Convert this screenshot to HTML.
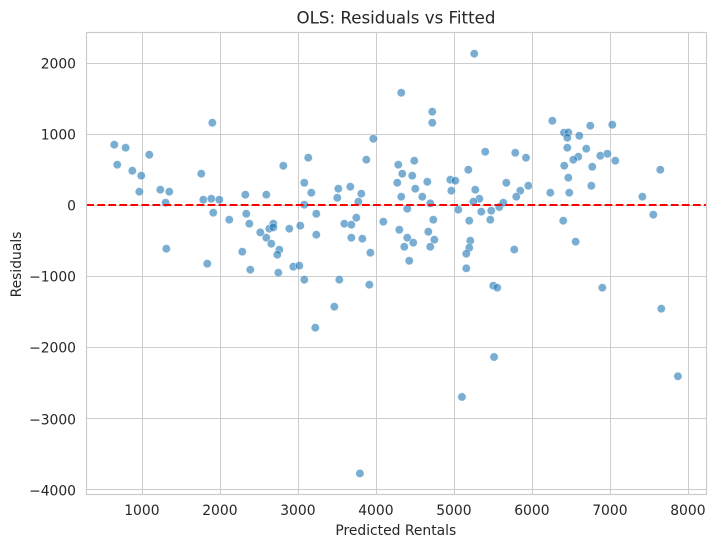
<!DOCTYPE html>
<html lang="en">
<head>
<meta charset="utf-8">
<title>OLS: Residuals vs Fitted</title>
<style>
  html, body { margin: 0; padding: 0; background: #fff; }
  svg { display: block; font-family: "DejaVu Sans", "Liberation Sans", sans-serif; }
  text { fill: #262626; }
</style>
</head>
<body>
<svg id="chart" xmlns="http://www.w3.org/2000/svg" width="716" height="547" viewBox="0 0 716 547">
  <rect x="0" y="0" width="716" height="547" fill="#ffffff"></rect>
  <g id="grid"></g>
  <g id="points"></g>
  <g id="zero-line-layer"></g>
  <g id="spines"></g>
  <g id="x-ticks"></g>
  <g id="y-ticks"></g>
  <text x="396" y="23.5" font-size="16.67" text-anchor="middle">OLS: Residuals vs Fitted</text>
  <text x="395.8" y="535" font-size="13.89" text-anchor="middle">Predicted Rentals</text>
  <text x="0" y="0" font-size="13.89" text-anchor="middle" transform="translate(21,264.5) rotate(-90)">Residuals</text>
</svg>
<script>
const fittedValues = [
  641, 786, 1090, 679, 872, 987, 962, 1231, 1346, 1299,
  1756, 1898, 1782, 1885, 1987, 1910, 2115, 1308, 1833, 2321,
  2333, 2372, 2590, 2513, 2628, 2680, 2680, 2590, 2654, 2757,
  2731, 2282, 2385, 2744, 2885, 3026, 2936, 3013, 3077, 2808,
  3128, 3077, 3167, 3077, 3231, 3231, 3526, 3462, 3218, 3500,
  3513, 3667, 3808, 3770, 3872, 3962, 3590, 3680, 3744, 3680,
  3821, 3924, 3911, 4090, 4320, 4718, 4718, 5256, 4282, 4487,
  4333, 4461, 4269, 4654, 4500, 4320, 4590, 4692, 4397, 4731,
  4295, 4667, 4397, 4744, 4474, 4359, 4692, 4423, 4949, 5013,
  4962, 5180, 5269, 5321, 5244, 5051, 5346, 5474, 5577, 5628,
  5462, 5192, 5205, 5192, 5154, 5154, 5500, 5551, 5769, 5397,
  5782, 5919, 5667, 5846, 5949, 5795, 6231, 6257, 6744, 7026,
  6406, 6462, 6449, 6603, 6449, 6692, 6590, 6526, 6872, 6962,
  7064, 6410, 6769, 6462, 6757, 6474, 6397, 6556, 6898, 7411,
  7552, 7641, 7654, 7867, 5510, 5098, 3790
];
const residualValues = [
  851, 809, 710, 570, 485, 415, 190, 218, 190, 35,
  443, 1160, 77, 91, 77, -105, -204, -612, -823, 148,
  -120, -260, 148, -382, -330, -260, -312, -457, -541, -626,
  -696, -654, -907, -949, -330, -288, -865, -851, -1048, 555,
  668, 316, 176, 7, -120, -415, -1048, -1427, -1723, 105,
  232, 260, 162, 49, 640, 935, -260, -274, -176, -457,
  -471, -668, -1118, -232, 1582, 1315, 1160, 2131, 570, 626,
  443, 415, 316, 330, 232, 120, 120, 26, -49, -204,
  -345, -373, -457, -485, -527, -584, -584, -781, 359, 345,
  204, 499, 218, 91, 49, -63, -91, -77, -26, 35,
  -204, -218, -499, -598, -682, -888, -1132, -1160, -624, 752,
  738, 668, 316, 204, 274, 120, 176, 1188, 1118, 1132,
  1020, 1024, 949, 977, 809, 795, 682, 640, 696, 724,
  626, 556, 541, 387, 274, 176, -218, -513, -1160, 120,
  -133, 499, -1455, -2406, -2135, -2697, -3773
];
const xTickValues = [1000, 2000, 3000, 4000, 5000, 6000, 7000, 8000];
const yTickValues = [2000, 1000, 0, -1000, -2000, -3000, -4000];
const xDomain = [282, 8231];
const yDomain = [-4066, 2432];
const zeroReference = 0;

const plotLeft = 86.3, plotRight = 706.3, plotTop = 32.3, plotBottom = 494.3;
const svgNS = 'http://www.w3.org/2000/svg';

function xScale(v) {
  return plotLeft + (v - xDomain[0]) / (xDomain[1] - xDomain[0]) * (plotRight - plotLeft);
}
function yScale(v) {
  return plotBottom - (v - yDomain[0]) / (yDomain[1] - yDomain[0]) * (plotBottom - plotTop);
}
function snap(p) {
  return Math.floor(p) + 0.5;
}
function formatTick(v) {
  return v < 0 ? '\u2212' + Math.abs(v) : String(v);
}
function makeLine(x1, y1, x2, y2, stroke, width) {
  const el = document.createElementNS(svgNS, 'line');
  el.setAttribute('x1', x1);
  el.setAttribute('y1', y1);
  el.setAttribute('x2', x2);
  el.setAttribute('y2', y2);
  el.setAttribute('stroke', stroke);
  el.setAttribute('stroke-width', width);
  return el;
}

const gridLayer = document.getElementById('grid');
const xLabelLayer = document.getElementById('x-ticks');
const yLabelLayer = document.getElementById('y-ticks');
const pointLayer = document.getElementById('points');
const zeroLayer = document.getElementById('zero-line-layer');
const spineLayer = document.getElementById('spines');

xTickValues.forEach(function (v) {
  const gridLine = makeLine(snap(xScale(v)), plotTop, snap(xScale(v)), plotBottom, '#cccccc', 1);
  
  
  gridLayer.appendChild(gridLine);

  const label = document.createElementNS(svgNS, 'text');
  
  
  label.setAttribute('x', xScale(v) - 0.4);
  label.setAttribute('y', 515);
  label.setAttribute('font-size', '13.89');
  label.setAttribute('text-anchor', 'middle');
  label.textContent = formatTick(v);
  xLabelLayer.appendChild(label);
});

yTickValues.forEach(function (v) {
  const gridLine = makeLine(plotLeft, snap(yScale(v)), plotRight, snap(yScale(v)), '#cccccc', 1);
  
  
  gridLayer.appendChild(gridLine);

  const label = document.createElementNS(svgNS, 'text');
  
  
  label.setAttribute('x', 76);
  label.setAttribute('y', Math.round(yScale(v)) + 5.5);
  label.setAttribute('font-size', '13.89');
  label.setAttribute('text-anchor', 'end');
  label.textContent = formatTick(v);
  yLabelLayer.appendChild(label);
});

fittedValues.forEach(function (f, i) {
  const dot = document.createElementNS(svgNS, 'circle');
  
  
  dot.setAttribute('cx', xScale(f));
  dot.setAttribute('cy', yScale(residualValues[i]));
  dot.setAttribute('r', 4.17);
  dot.setAttribute('fill', '#1f77b4');
  dot.setAttribute('fill-opacity', 0.6);
  dot.setAttribute('stroke', '#ffffff');
  dot.setAttribute('stroke-opacity', 0.6);
  dot.setAttribute('stroke-width', 0.67);
  pointLayer.appendChild(dot);
});

const zeroY = Math.round(yScale(zeroReference));
const zeroLine = makeLine(plotLeft, zeroY, plotRight, zeroY, '#ff0000', 2.08);


zeroLine.setAttribute('stroke-dasharray', '7.7 3.33');
zeroLayer.appendChild(zeroLine);

const spineRect = document.createElementNS(svgNS, 'rect');


spineRect.setAttribute('x', snap(plotLeft));
spineRect.setAttribute('y', snap(plotTop));
spineRect.setAttribute('width', 620);
spineRect.setAttribute('height', 462);
spineRect.setAttribute('fill', 'none');
spineRect.setAttribute('stroke', '#cccccc');
spineRect.setAttribute('stroke-width', 1.2);
spineLayer.appendChild(spineRect);
</script>
</body>
</html>
